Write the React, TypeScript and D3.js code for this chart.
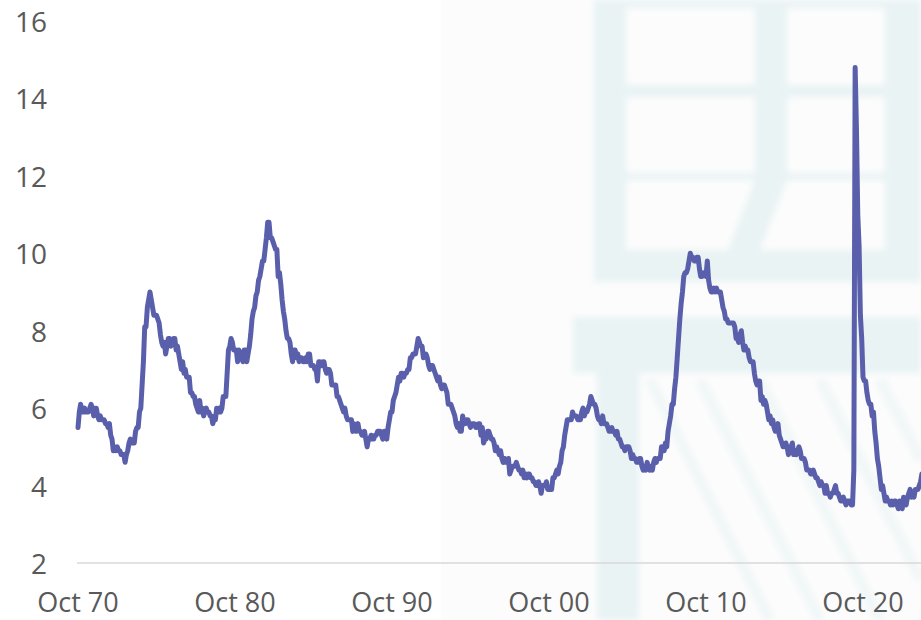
import React from "react";
import * as d3 from "d3";

// Monthly US unemployment rate (%), starting October 1970
const startLabel = "Oct 70";
const rate1970s = [
  5.5, 5.9, 6.1,
  5.9, 5.9, 6.0, 5.9, 5.9, 5.9, 6.0, 6.1, 6.0, 5.8, 6.0, 6.0,
  5.8, 5.7, 5.8, 5.7, 5.7, 5.7, 5.6, 5.6, 5.5, 5.6, 5.3, 5.2,
  4.9, 5.0, 4.9, 5.0, 4.9, 4.9, 4.8, 4.8, 4.8, 4.6, 4.8, 4.9,
  5.1, 5.2, 5.1, 5.1, 5.1, 5.4, 5.5, 5.5, 5.9, 6.0, 6.6, 7.2,
  8.1, 8.1, 8.6, 8.8, 9.0, 8.8, 8.6, 8.4, 8.4, 8.4, 8.3, 8.2,
  7.9, 7.7, 7.6, 7.7, 7.4, 7.6, 7.8, 7.8, 7.6, 7.7, 7.8, 7.8,
  7.5, 7.6, 7.4, 7.2, 7.0, 7.2, 6.9, 7.0, 6.8, 6.8, 6.8, 6.4,
  6.4, 6.3, 6.3, 6.1, 6.0, 5.9, 6.2, 5.9, 6.0, 5.8, 5.9, 6.0,
  5.9, 5.9, 5.8, 5.8, 5.6, 5.7, 5.7, 6.0, 5.9, 6.0, 5.9, 6.0,
];
const rate1980s = [
  6.3, 6.3, 6.3, 6.9, 7.5, 7.6, 7.8, 7.7, 7.5, 7.5, 7.5, 7.2,
  7.5, 7.4, 7.4, 7.2, 7.5, 7.5, 7.2, 7.4, 7.6, 7.9, 8.3, 8.5,
  8.6, 8.9, 9.0, 9.3, 9.4, 9.6, 9.8, 9.8, 10.1, 10.4, 10.8, 10.8,
  10.4, 10.4, 10.3, 10.2, 10.1, 10.1, 9.4, 9.5, 9.2, 8.8, 8.5, 8.3,
  8.0, 7.8, 7.8, 7.7, 7.4, 7.2, 7.5, 7.5, 7.3, 7.4, 7.2, 7.3,
  7.3, 7.2, 7.2, 7.3, 7.2, 7.4, 7.4, 7.1, 7.1, 7.1, 7.0, 7.0,
  6.7, 7.2, 7.2, 7.1, 7.2, 7.2, 7.0, 6.9, 7.0, 7.0, 6.9, 6.6,
  6.6, 6.6, 6.6, 6.3, 6.3, 6.2, 6.1, 6.0, 5.9, 6.0, 5.8, 5.7,
  5.7, 5.7, 5.7, 5.4, 5.6, 5.4, 5.4, 5.6, 5.4, 5.4, 5.3, 5.3,
  5.4, 5.2, 5.0, 5.2, 5.2, 5.3, 5.2, 5.2, 5.3, 5.3, 5.4, 5.4,
];
const rate1990s = [
  5.4, 5.3, 5.2, 5.4, 5.4, 5.2, 5.5, 5.7, 5.9, 5.9, 6.2, 6.3,
  6.4, 6.6, 6.8, 6.7, 6.9, 6.9, 6.8, 6.9, 6.9, 7.0, 7.0, 7.3,
  7.3, 7.4, 7.4, 7.4, 7.6, 7.8, 7.7, 7.6, 7.6, 7.3, 7.4, 7.4,
  7.3, 7.1, 7.0, 7.1, 7.1, 7.0, 6.9, 6.8, 6.7, 6.8, 6.6, 6.5,
  6.6, 6.6, 6.5, 6.4, 6.1, 6.1, 6.1, 6.0, 5.9, 5.8, 5.6, 5.5,
  5.6, 5.4, 5.4, 5.8, 5.6, 5.6, 5.7, 5.7, 5.6, 5.5, 5.6, 5.6,
  5.6, 5.5, 5.5, 5.6, 5.6, 5.3, 5.5, 5.1, 5.2, 5.2, 5.4, 5.4,
  5.3, 5.2, 5.2, 5.1, 4.9, 5.0, 4.9, 4.8, 4.9, 4.7, 4.6, 4.7,
  4.6, 4.6, 4.7, 4.3, 4.4, 4.5, 4.5, 4.5, 4.6, 4.5, 4.4, 4.4,
  4.3, 4.4, 4.2, 4.3, 4.2, 4.3, 4.3, 4.2, 4.2, 4.1, 4.1, 4.0,
];
const rate2000s = [
  4.0, 4.1, 4.0, 3.8, 4.0, 4.0, 4.0, 4.1, 3.9, 3.9, 3.9, 3.9,
  4.2, 4.2, 4.3, 4.4, 4.3, 4.5, 4.6, 4.9, 5.0, 5.3, 5.5, 5.7,
  5.7, 5.7, 5.7, 5.9, 5.8, 5.8, 5.8, 5.7, 5.7, 5.7, 5.9, 6.0,
  5.8, 5.9, 5.9, 6.0, 6.1, 6.3, 6.2, 6.1, 6.1, 6.0, 5.8, 5.7,
  5.7, 5.6, 5.8, 5.6, 5.6, 5.6, 5.5, 5.4, 5.4, 5.5, 5.4, 5.4,
  5.3, 5.4, 5.2, 5.2, 5.1, 5.0, 5.0, 4.9, 5.0, 5.0, 5.0, 4.9,
  4.7, 4.8, 4.7, 4.7, 4.6, 4.6, 4.7, 4.7, 4.5, 4.4, 4.5, 4.4,
  4.6, 4.5, 4.4, 4.5, 4.4, 4.6, 4.7, 4.6, 4.7, 4.7, 4.7, 5.0,
  5.0, 4.9, 5.1, 5.0, 5.4, 5.6, 5.8, 6.1, 6.1, 6.5, 6.8, 7.3,
  7.8, 8.3, 8.7, 9.0, 9.4, 9.5, 9.5, 9.6, 9.8, 10.0, 9.9, 9.9,
];
const rate2010s = [
  9.8, 9.8, 9.9, 9.9, 9.6, 9.4, 9.4, 9.5, 9.5, 9.4, 9.8, 9.3,
  9.1, 9.0, 9.0, 9.1, 9.0, 9.1, 9.0, 9.0, 9.0, 8.8, 8.6, 8.5,
  8.3, 8.3, 8.2, 8.2, 8.2, 8.2, 8.2, 8.1, 7.8, 7.8, 7.7, 7.9,
  8.0, 7.7, 7.5, 7.6, 7.5, 7.5, 7.3, 7.2, 7.2, 7.2, 6.9, 6.7,
  6.6, 6.7, 6.7, 6.2, 6.3, 6.1, 6.2, 6.1, 5.9, 5.7, 5.8, 5.6,
  5.7, 5.5, 5.4, 5.4, 5.6, 5.3, 5.2, 5.1, 5.0, 5.0, 5.1, 5.0,
  4.8, 4.9, 5.0, 5.1, 4.8, 4.9, 4.8, 4.9, 5.0, 4.9, 4.7, 4.7,
  4.7, 4.6, 4.4, 4.4, 4.4, 4.3, 4.3, 4.4, 4.3, 4.2, 4.2, 4.1,
  4.0, 4.1, 4.0, 4.0, 3.8, 4.0, 3.8, 3.8, 3.7, 3.8, 3.8, 3.9,
  4.0, 3.8, 3.8, 3.7, 3.6, 3.6, 3.7, 3.6, 3.5, 3.6, 3.6, 3.6,
];
const rate2020s = [
  3.5, 3.5, 4.4, 14.8, 13.2, 11.0, 10.2, 8.4, 7.8, 6.8, 6.7, 6.7,
  6.4, 6.2, 6.1, 6.1, 5.8, 5.9, 5.4, 5.1, 4.7, 4.5, 4.2, 3.9,
  4.0, 3.8, 3.6, 3.7, 3.6, 3.6, 3.5, 3.6, 3.5, 3.6, 3.6, 3.5,
  3.4, 3.6, 3.5, 3.4, 3.7, 3.6, 3.5, 3.7, 3.8, 3.9, 3.7, 3.8,
  3.7, 3.9, 3.9, 3.9, 4.0, 4.1, 4.3, 4.2,
];
const xTickLabels = [startLabel, "Oct 80", "Oct 90", "Oct 00", "Oct 10", "Oct 20"];
const yTicks = [2, 4, 6, 8, 10, 12, 14, 16];

const values = [...rate1970s, ...rate1980s, ...rate1990s, ...rate2000s, ...rate2010s, ...rate2020s];

const W = 921;
const H = 620;

export default function App() {
  const x = d3.scaleLinear().domain([0, 600]).range([78, 863]);
  const y = d3.scaleLinear().domain([2, 16]).range([563, 21]);
  const line = d3
    .line<number>()
    .x((_, i) => x(i))
    .y((d) => y(d));
  const font = "'Open Sans', 'DejaVu Sans', sans-serif";
  const wm = "#e9f3f4";
  return (
    <svg
      width={W}
      height={H}
      style={{ position: "absolute", left: 0, top: 0, display: "block", background: "#ffffff" }}
    >
      <defs>
        <clipPath id="plot">
          <rect x={0} y={0} width={W} height={H} />
        </clipPath>
        <filter id="soft" x="-10%" y="-10%" width="120%" height="120%">
          <feGaussianBlur stdDeviation={3} />
        </filter>
      </defs>
      {/* faint background watermark */}
      <rect x={441} y={0} width={W - 441} height={H} fill="#fcfcfc" />
      <g filter="url(#soft)">
        <g fill={wm}>
          <rect x={594} y={0} width={32} height={282} />
          <rect x={594} y={0} width={327} height={8} />
          <rect x={594} y={85} width={327} height={12} />
          <rect x={594} y={173} width={327} height={7} />
          <rect x={594} y={250} width={327} height={32} />
          <rect x={755} y={0} width={32} height={180} />
          <polygon points="755,180 787,180 760,250 728,250" />
          <rect x={885} y={0} width={36} height={282} />
          <rect x={573} y={317} width={348} height={56} />
          <rect x={597} y={373} width={42} height={247} />
        </g>
        <g stroke="#f0f6f7" strokeWidth={10} fill="none">
          <line x1={650} y1={380} x2={770} y2={620} />
          <line x1={700} y1={380} x2={820} y2={620} />
          <line x1={760} y1={380} x2={880} y2={620} />
          <line x1={820} y1={380} x2={921} y2={580} />
          <line x1={880} y1={380} x2={921} y2={460} />
        </g>
      </g>

      {/* axis line */}
      <line x1={77} x2={W} y1={y(2)} y2={y(2)} stroke="#d9d9d9" strokeWidth={1.5} />

      {/* y labels */}
      {yTicks.map((t) => (
        <text
          key={t}
          x={47}
          y={y(t)}
          textAnchor="end"
          dominantBaseline="central"
          fontFamily={font}
          fontSize={28}
          fill="#595959"
        >
          {t}
        </text>
      ))}

      {/* x labels */}
      {xTickLabels.map((lab, i) => (
        <text
          key={lab}
          x={x(i * 120)}
          y={601}
          textAnchor="middle"
          dominantBaseline="central"
          fontFamily={font}
          fontSize={27}
          fill="#595959"
        >
          {lab}
        </text>
      ))}

      <path
        d={line(values) || ""}
        fill="none"
        stroke="#5a5fab"
        strokeWidth={5}
        strokeLinejoin="round"
        strokeLinecap="round"
        clipPath="url(#plot)"
      />
    </svg>
  );
}
